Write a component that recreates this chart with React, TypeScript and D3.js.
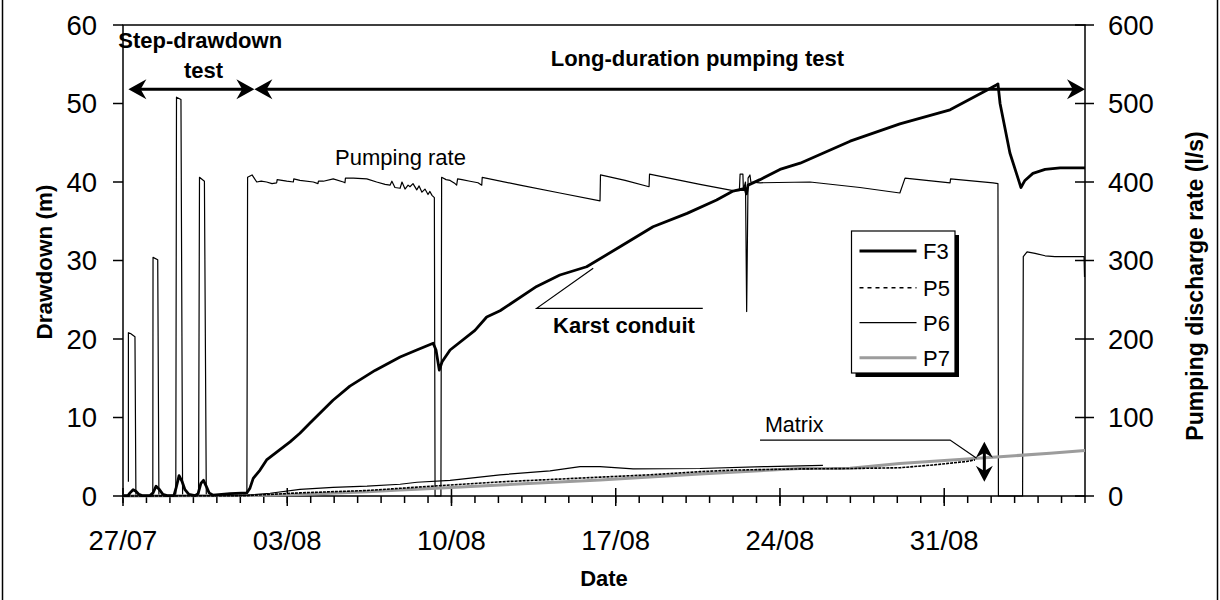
import React from 'react';
import * as d3 from 'd3';

// ---------- axis data ----------
const dateTickDays = [0, 7, 14, 21, 28, 35];
const dateTickLabels = ['27/07', '03/08', '10/08', '17/08', '24/08', '31/08'];
const minorTickDays = [0,1,2,3,4,5,6,7,8,9,10,11,12,13,14,15,16,17,18,19,20,21,22,23,24,25,26,27,28,29,30,31,32,33,34,35,36,37,38,39,40,41];
const drawdownTicks = [0, 10, 20, 30, 40, 50, 60];
const rateTicks = [0, 100, 200, 300, 400, 500, 600];

// ---------- series (days since 27/07) ----------
const pumpDays = [0.23,0.23,0.32,0.51,0.55,1.27,1.28,1.48,1.53,2.25,2.28,2.47,2.54,3.22,3.26,3.47,3.55,5.28,
  5.31,5.50,5.70,5.89,6.12,6.35,6.55,6.57,6.98,7.26,7.28,7.54,8.11,8.31,8.33,8.54,8.96,9.39,9.46,9.48,9.82,10.39,10.81,
  11.17,11.38,11.46,11.59,11.81,11.89,12.02,12.15,12.23,12.36,12.52,12.62,12.74,12.87,13.00,13.08,13.17,13.27,13.30,
  13.55,13.58,13.77,13.94,14.15,14.22,14.26,14.45,14.79,15.13,15.29,15.31,16.92,18.62,20.33,20.35,21.40,22.42,22.44,
  24.59,26.00,26.27,26.30,26.42,26.44,26.53,26.58,26.64,26.72,26.76,27.15,29.28,31.41,33.11,33.33,35.25,35.27,37.08,
  37.29,37.31,38.34,38.37,38.53,38.87,39.30,39.72,40.96,40.98];
const pumpRate = [18,208,207,203,0,0,304,301,0,0,508,505,0,0,406,401,0,0,
  406,409,400,401,400,398,399,403,401,400,404,402,400,398,401,401,404,400,399,405,405,404,400,
  397,396,401,393,392,400,391,396,394,398,390,395,387,391,384,388,383,380,0,
  0,406,403,402,398,396,404,403,401,399,396,406,396,386,376,409,402,394,410,
  397,389,389,410,410,390,400,235,405,409,400,399,400,393,386,405,399,404,399,
  398,0,0,305,311,309,306,305,305,279];

const f3Days = [0,0.21,0.30,0.43,0.55,0.68,0.81,1.15,1.28,1.41,1.53,1.70,1.88,2.17,2.26,2.39,2.51,2.64,2.81,3.07,3.20,
  3.32,3.43,3.54,3.67,3.84,4.56,5.28,5.41,5.55,5.84,6.12,6.55,7.12,7.54,7.97,8.95,9.67,10.74,11.81,12.52,13.22,13.34,
  13.48,13.60,13.94,15.00,15.50,16.07,17.63,18.62,19.76,21.18,22.59,24.04,25.30,26.00,26.51,26.57,26.64,27.15,28.00,
  28.86,30.99,33.11,35.25,36.81,37.24,37.29,37.38,37.80,38.27,38.44,38.78,39.30,39.94,41.00];
const f3Drawdown = [0.05,0.05,0.4,0.8,0.6,0.2,0.05,0.05,0.4,1.25,0.9,0.2,0.05,0.05,1.0,2.6,1.9,0.8,0.2,0.05,0.3,
  1.6,2.0,1.3,0.4,0.1,0.3,0.4,1.0,2.25,3.3,4.6,5.6,6.9,8.0,9.3,12.2,14.0,16.0,17.7,18.6,19.45,18.6,
  16.05,17.1,18.6,21.1,22.8,23.6,26.7,28.15,29.2,31.75,34.3,36.0,37.7,38.85,39.2,38.5,39.6,40.3,41.6,
  42.4,45.2,47.4,49.2,51.7,52.4,52.5,50.0,43.7,39.3,40.2,41.1,41.6,41.8,41.8];

const p5Days = [0,5.28,7.54,10.40,11.81,13.94,16.07,18.20,20.33,22.46,24.59,26.00,28.86,30.99,33.11,34.52,35.96,36.31];
const p5Drawdown = [0,0.05,0.4,0.7,0.98,1.4,1.8,2.1,2.4,2.7,3.1,3.3,3.45,3.5,3.6,3.95,4.4,4.6];

const p6Days = [0,4.99,5.33,6.27,7.54,8.95,10.40,11.81,12.53,13.94,16.07,18.20,19.48,20.33,21.74,24.59,27.45,28.86,29.83];
const p6Drawdown = [0,0.05,0.1,0.35,0.85,1.1,1.25,1.5,1.75,2.0,2.7,3.2,3.75,3.75,3.45,3.5,3.75,3.85,3.9];

const p7Days = [0,5.33,7.54,10.40,11.81,12.53,16.07,20.33,24.59,28.86,30.99,33.11,35.96,37.38,39.51,41.0];
const p7Drawdown = [0,0.05,0.2,0.55,0.75,0.85,1.4,2.05,2.8,3.5,3.55,4.15,4.7,5.0,5.45,5.8];

const legendNames = ['F3', 'P5', 'P6', 'P7'];

const W = 1220, H = 600;
const FONT = '"Liberation Sans", Arial, sans-serif';

const x = d3.scaleLinear().domain([0, 41]).range([123, 1085]);
const yL = d3.scaleLinear().domain([0, 60]).range([496, 25]);
const yR = d3.scaleLinear().domain([0, 600]).range([496, 25]);

function pathOf(days: number[], vals: number[], ys: (v: number) => number) {
  const pts: [number, number][] = days.map((d, i) => [x(d), ys(vals[i])]);
  return d3.line()(pts) || '';
}

function Head({ tx, ty, angle, len = 18, hw = 10 }: { tx: number; ty: number; angle: number; len?: number; hw?: number }) {
  const d = `M0,0 L${-len},${-hw} L${-len * 0.68},0 L${-len},${hw} Z`;
  return <path d={d} fill="#000" transform={`translate(${tx},${ty}) rotate(${angle})`} />;
}

export default function App() {
  const left = x(0), right = x(41), top = yL(60), bottom = yL(0);
  const arrowY = yL(51.8);
  const split = x(5.6);
  const legend = { x: 851.5, y: 231, w: 103.5, h: 142 };
  const legendRows = [251, 287.7, 322.7, 357.7];
  const mx = x(36.71);
  return (
    <svg width={W} height={H} style={{ position: 'absolute', left: 0, top: 0, background: '#fff' }} fontFamily={FONT}>
      <rect x={0} y={0} width={W} height={H} fill="#fff" />
      <rect x={2.5} y={-10} width={1215} height={620} fill="none" stroke="#000" strokeWidth={1.5} />

      {/* plot frame */}
      <rect x={left} y={top} width={right - left} height={bottom - top} fill="none" stroke="#000" strokeWidth={1.5} />

      {/* left ticks */}
      {drawdownTicks.map((t) => (
        <g key={'l' + t}>
          <line x1={left - 10} x2={left} y1={yL(t)} y2={yL(t)} stroke="#000" strokeWidth={1.5} />
          <text x={97} y={yL(t)} dy="0.36em" textAnchor="end" fontSize={27.5}>{t}</text>
        </g>
      ))}
      {/* right ticks */}
      {rateTicks.map((t) => (
        <g key={'r' + t}>
          <line x1={right - 10} x2={right + 9} y1={yR(t)} y2={yR(t)} stroke="#000" strokeWidth={1.5} />
          <text x={1108} y={yR(t)} dy="0.36em" textAnchor="start" fontSize={27.5}>{t}</text>
        </g>
      ))}
      {/* x ticks */}
      {minorTickDays.map((d) => (
        <line key={'m' + d} x1={x(d)} x2={x(d)} y1={bottom} y2={bottom + 7} stroke="#000" strokeWidth={1.5} />
      ))}
      {dateTickDays.map((d, i) => (
        <g key={'d' + d}>
          <line x1={x(d)} x2={x(d)} y1={bottom - 8} y2={bottom + 10} stroke="#000" strokeWidth={1.5} />
          <text x={x(d)} y={550} textAnchor="middle" fontSize={27.5}>{dateTickLabels[i]}</text>
        </g>
      ))}

      {/* axis titles */}
      <text x={604} y={586} textAnchor="middle" fontSize={22} fontWeight="bold">Date</text>
      <text transform={`translate(51.5,262) rotate(-90)`} textAnchor="middle" fontSize={22.5} fontWeight="bold">Drawdown (m)</text>
      <text transform={`translate(1203,286) rotate(-90)`} textAnchor="middle" fontSize={23} fontWeight="bold">Pumping discharge rate (l/s)</text>

      {/* series */}
      <path d={pathOf(pumpDays, pumpRate, yR)} fill="none" stroke="#000" strokeWidth={1.2} strokeLinejoin="round" />
      <path d={pathOf(p7Days, p7Drawdown, yL)} fill="none" stroke="#9c9c9c" strokeWidth={3} />
      <path d={pathOf(p6Days, p6Drawdown, yL)} fill="none" stroke="#000" strokeWidth={1.2} />
      <path d={pathOf(p5Days, p5Drawdown, yL)} fill="none" stroke="#000" strokeWidth={1.6} strokeDasharray="3,1" />
      <path d={pathOf(f3Days, f3Drawdown, yL)} fill="none" stroke="#000" strokeWidth={2.8} strokeLinejoin="round" />

      {/* top arrows */}
      <line x1={x(0.23) + 5} x2={split - 5} y1={arrowY} y2={arrowY} stroke="#000" strokeWidth={3} />
      <line x1={split + 5} x2={right - 5} y1={arrowY} y2={arrowY} stroke="#000" strokeWidth={3} />
      <Head tx={x(0.23)} ty={arrowY} angle={180} />
      <Head tx={split} ty={arrowY} angle={0} />
      <Head tx={split} ty={arrowY} angle={180} />
      <Head tx={right} ty={arrowY} angle={0} />

      <text x={x(-0.2)} y={yL(57.1)} fontSize={22} fontWeight="bold">Step-drawdown</text>
      <text x={x(3.43)} y={yL(53.3)} textAnchor="middle" fontSize={22} fontWeight="bold">test</text>
      <text x={x(24.48)} y={yL(54.8)} textAnchor="middle" fontSize={22} fontWeight="bold">Long-duration pumping test</text>

      <text x={x(9.04)} y={yL(42.2)} fontSize={22}>Pumping rate</text>

      {/* karst conduit */}
      <polyline points={`${x(20.04)},${yL(29.0)} ${x(17.63)},${yL(23.9)} ${x(24.71)},${yL(23.9)}`} fill="none" stroke="#000" strokeWidth={1.2} />
      <text x={x(21.35)} y={yL(20.8)} textAnchor="middle" fontSize={22} fontWeight="bold">Karst conduit</text>

      {/* matrix */}
      <text x={x(27.36)} y={yL(8.1)} fontSize={21.5}>Matrix</text>
      <polyline points={`${x(27.15)},${yL(7.13)} ${x(35.25)},${yL(7.13)} ${x(36.38)},${yL(4.8)}`} fill="none" stroke="#000" strokeWidth={1.2} />
      <line x1={mx} x2={mx} y1={yL(6.9) + 6} y2={yL(1.8) - 6} stroke="#000" strokeWidth={3} />
      <Head tx={mx} ty={yL(6.9)} angle={-90} len={16} hw={8.5} />
      <Head tx={mx} ty={yL(1.8)} angle={90} len={16} hw={8.5} />

      {/* legend */}
      <rect x={legend.x + 4} y={legend.y + 4} width={legend.w} height={legend.h} fill="#000" />
      <rect x={legend.x} y={legend.y} width={legend.w} height={legend.h} fill="#fff" stroke="#000" strokeWidth={1.2} />
      {legendNames.map((n, i) => {
        const yy = legendRows[i];
        const style =
          n === 'F3' ? { stroke: '#000', strokeWidth: 3 } :
          n === 'P5' ? { stroke: '#000', strokeWidth: 1.5, strokeDasharray: '4,4' } :
          n === 'P6' ? { stroke: '#000', strokeWidth: 1.2 } :
          { stroke: '#9c9c9c', strokeWidth: 3 };
        return (
          <g key={n}>
            <line x1={859.5} x2={916.5} y1={yy} y2={yy} {...style} />
            <text x={923} y={yy} dy="0.36em" fontSize={22}>{n}</text>
          </g>
        );
      })}
    </svg>
  );
}
